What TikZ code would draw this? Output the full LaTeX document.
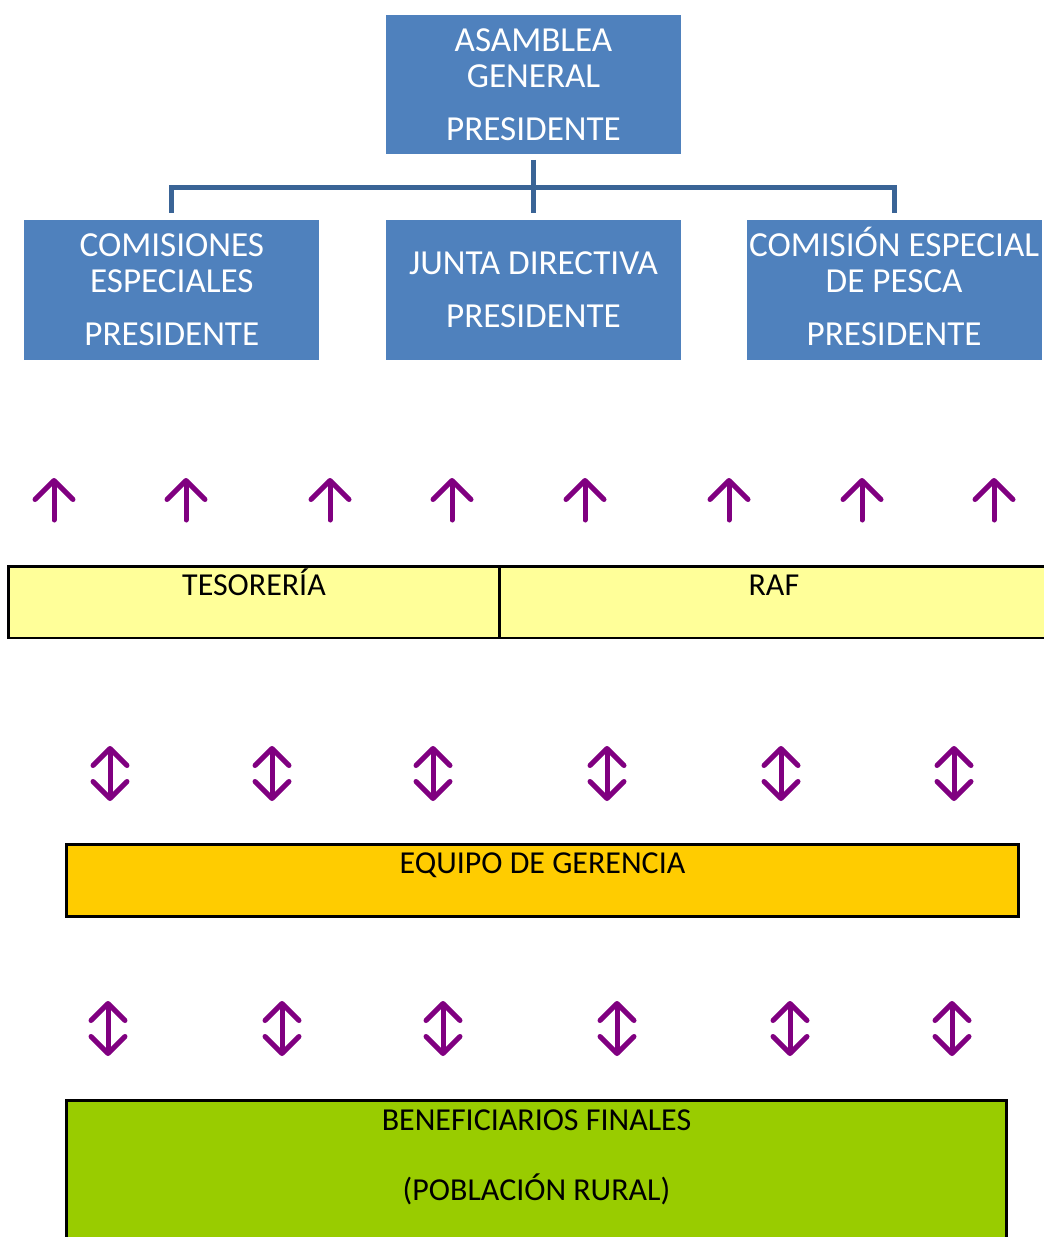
\documentclass[tikz,border=0pt]{standalone}
\usepackage{fontspec}
\setmainfont{Carlito}
\usetikzlibrary{positioning, arrows.meta, calc}

\definecolor{boxblue}{RGB}{79,129,189}
\definecolor{linkblue}{RGB}{58,100,150}
\definecolor{arrowpurple}{RGB}{128,0,128}
\definecolor{tesyellow}{RGB}{255,255,153}
\definecolor{gerorange}{RGB}{255,204,0}
\definecolor{benegreen}{RGB}{153,204,0}

\begin{document}
\begin{tikzpicture}[x=0.02cm, y=-0.02cm,
    org/.style={rectangle, fill=boxblue, text=white, minimum width=5.9cm, minimum height=2.8cm, align=center, inner sep=0pt, font=\fontsize{20}{20.5}\selectfont},
    band/.style={rectangle, draw=black, line width=0.06cm, minimum height=1.44cm, inner sep=0pt},
    bandtext/.style={anchor=base, inner sep=0pt, font=\fontsize{18.2}{20}\selectfont},
    link/.style={draw=linkblue, line width=0.1cm},
    uparrow/.style={draw=arrowpurple, line width=0.1cm, line cap=round, -{Straight Barb[length=0.38cm, width=0.76cm, round]}},
    twoway/.style={draw=arrowpurple, line width=0.1cm, line cap=round, {Straight Barb[length=0.34cm, width=0.68cm, round]}-{Straight Barb[length=0.34cm, width=0.68cm, round]}}]
    \useasboundingbox (0,0) rectangle (1044,1237);
    \clip (0,0) rectangle (1044,1237);

    % governing bodies
    \node[org] (ag) at (533.5,84.5) {ASAMBLEA\\GENERAL\\[0.34cm]PRESIDENTE};
    \node[org, below=1.3cm of ag] (jd) {JUNTA DIRECTIVA\\[0.34cm]PRESIDENTE};
    \node[org, left=1.32cm of jd] (ce) {COMISIONES\\ESPECIALES\\[0.34cm]PRESIDENTE};
    \node[org, right=1.3cm of jd] (cp) {COMISI\smash{Ó}N ESPECIAL\\DE PESCA\\[0.34cm]PRESIDENTE};

    \coordinate (bus) at ($(ag.south)!0.5!(jd.north)$);
    \draw[link, shorten <=0.1cm, shorten >=0.14cm] (ag.south) -- (jd.north);
    \draw[link, shorten <=0.14cm, shorten >=0.14cm] (ce.north) |- (bus) -| (cp.north);

    % administration
    \node[band, fill=tesyellow, minimum width=9.84cm] (tes) at (254,602) {};
    \node[band, fill=tesyellow, minimum width=10.96cm, right=-0.06cm of tes] (raf) {};
    \node[bandtext] (testxt) at ([yshift=-0.62cm]tes.north) {TESORERÍA};
    \node[bandtext] (raftxt) at ([yshift=-0.62cm]raf.north) {RAF};

    \node[band, fill=gerorange, minimum width=19.06cm] (eg) at (542.5,880) {};
    \node[bandtext] (egtxt) at ([yshift=-0.62cm]eg.north) {EQUIPO DE GERENCIA};

    \node[band, fill=benegreen, minimum width=18.82cm, minimum height=3.4cm, anchor=north] (bf) at (536.5,1099) {};
    \node[bandtext] (bftxt) at ([yshift=-0.62cm]bf.north) {BENEFICIARIOS FINALES};
    \node[bandtext] (pobtxt) at ([yshift=-2.04cm]bf.north) {(POBLACIÓN RURAL)};

    % arrows
    \foreach \x in {54,186,330,452,585,729,862,994}
        \draw[uparrow] (\x,520) -- (\x,478);
    \foreach \x in {110,272,433,607,781,954}
        \draw[twoway] (\x,746) -- (\x,801);
    \foreach \x in {108,282,443,617,790,952}
        \draw[twoway] (\x,1001) -- (\x,1056);
\end{tikzpicture}
\end{document}
